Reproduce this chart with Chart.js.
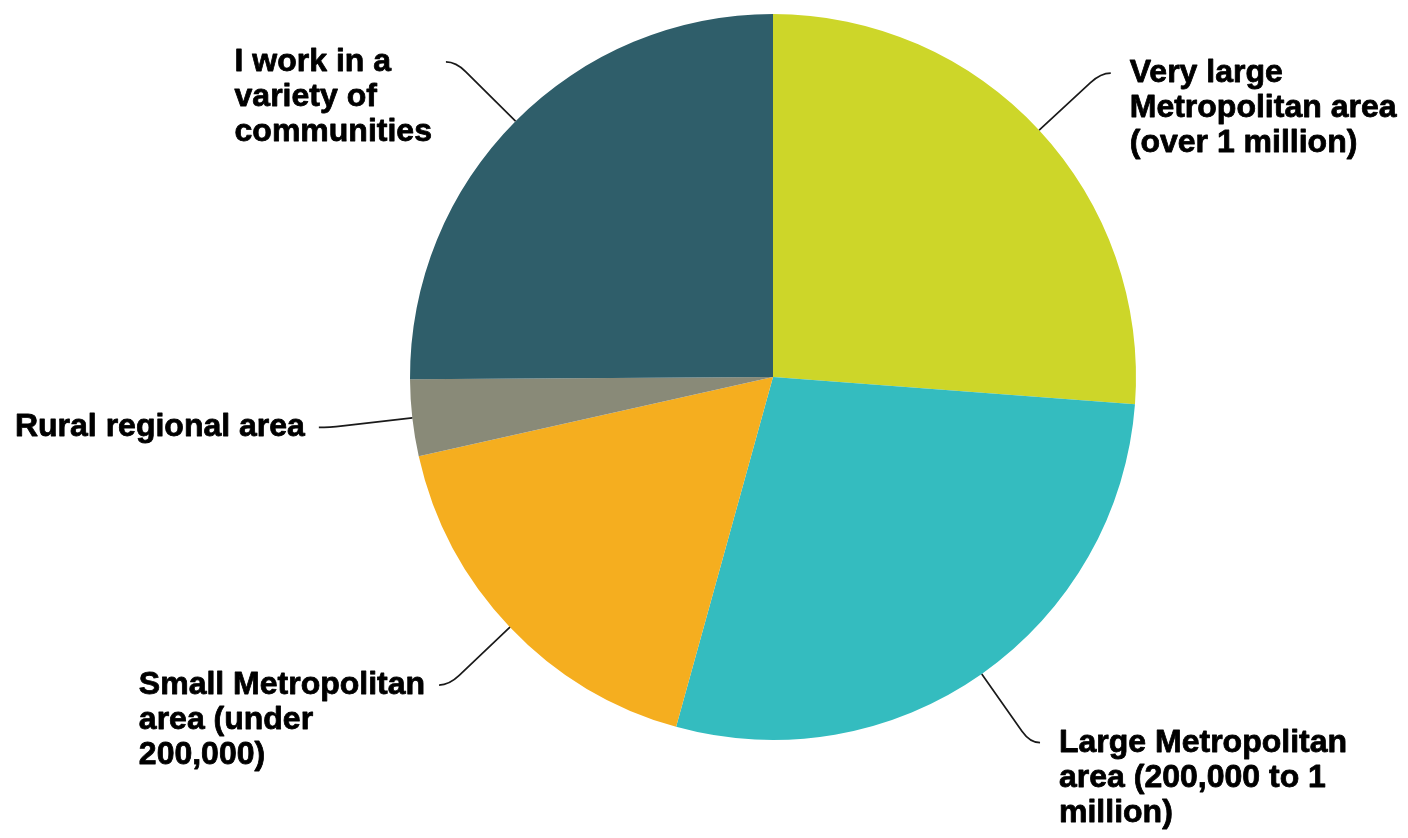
<!DOCTYPE html>
<html>
<head>
<meta charset="utf-8">
<title>Community size</title>
<script src="https://cdn.jsdelivr.net/npm/chart.js@4/dist/chart.umd.min.js"></script>
<style>
  html, body { margin: 0; padding: 0; background: #ffffff; }
  #wrap { width: 1408px; height: 838px; position: relative; }
</style>
</head>
<body>
<div id="wrap"><canvas id="chart" width="1408" height="838"></canvas></div>
<script>
// Share of respondents by the size of community they work in (%)
const categories = [
  ['Very large', 'Metropolitan area', '(over 1 million)'],
  ['Large Metropolitan', 'area (200,000 to 1', 'million)'],
  ['Small Metropolitan', 'area (under', '200,000)'],
  ['Rural regional area'],
  ['I work in a', 'variety of', 'communities']
];
const shares = [26.2, 28.1, 17.2, 3.4, 25.1];
const sliceColors = ['#CDD629', '#34BCBF', '#F5AE1F', '#898A78', '#2F5E6A'];

// Outside labels joined to each slice by a curved leader line
const leaderLabels = {
  id: 'leaderLabels',
  afterDatasetsDraw(chart) {
    const ctx = chart.ctx;
    const meta = chart.getDatasetMeta(0);
    const fontSize = 32;
    const lineHeight = 35;
    const reach = 84;     // radial length of the leader
    const tail = 10;      // horizontal end of the leader
    ctx.save();
    ctx.font = 'bold ' + fontSize + 'px "Liberation Sans", Arial, sans-serif';
    meta.data.forEach((arc, i) => {
      const p = arc.getProps(['x', 'y', 'startAngle', 'endAngle', 'outerRadius'], true);
      const mid = (p.startAngle + p.endAngle) / 2;
      const cos = Math.cos(mid), sin = Math.sin(mid);
      const r = p.outerRadius;
      const sx = p.x + cos * r, sy = p.y + sin * r;
      const bx = p.x + cos * (r + reach - 14), by = p.y + sin * (r + reach - 14);
      const ex = p.x + cos * (r + reach), ey = p.y + sin * (r + reach);
      const dir = cos >= 0 ? 1 : -1;
      const tx = ex + dir * tail, ty = ey;
      const gap = dir > 0 ? 19 : 14;

      ctx.beginPath();
      ctx.moveTo(sx, sy);
      ctx.lineTo(bx, by);
      ctx.quadraticCurveTo(ex, ey, tx, ty);
      ctx.strokeStyle = '#1a1a1a';
      ctx.lineWidth = 1.7;
      ctx.stroke();

      const lines = chart.data.labels[i];
      const blockWidth = Math.max(...lines.map(l => ctx.measureText(l).width));
      const left = dir > 0 ? tx + gap : tx - gap - blockWidth;
      ctx.fillStyle = '#000000';
      ctx.strokeStyle = '#000000';
      ctx.lineWidth = 0.8;
      ctx.lineJoin = 'round';
      ctx.textAlign = 'left';
      ctx.textBaseline = 'middle';
      lines.forEach((line, k) => {
        const y = ty + k * lineHeight;
        ctx.fillText(line, left, y);
        ctx.strokeText(line, left, y);
      });
    });
    ctx.restore();
  }
};

new Chart(document.getElementById('chart'), {
  type: 'pie',
  data: {
    labels: categories,
    datasets: [{
      data: shares,
      backgroundColor: sliceColors,
      borderWidth: 0
    }]
  },
  options: {
    responsive: false,
    animation: false,
    rotation: 0,
    layout: { padding: { left: 410, right: 272, top: 14, bottom: 98 } },
    plugins: {
      legend: { display: false },
      tooltip: { enabled: false }
    }
  },
  plugins: [leaderLabels]
});
</script>
</body>
</html>
